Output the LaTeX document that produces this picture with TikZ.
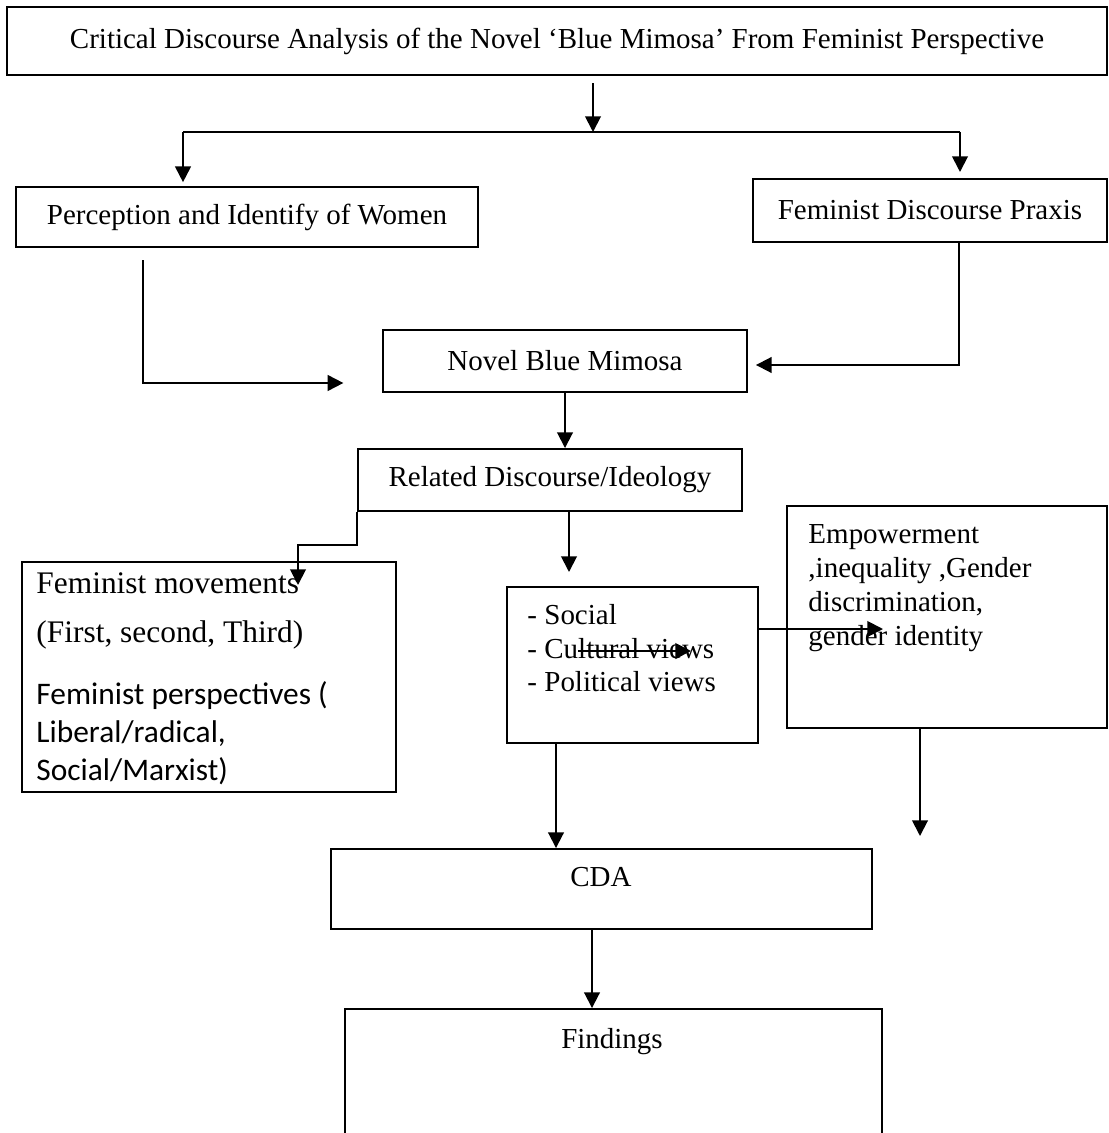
\documentclass[tikz,border=0pt]{standalone}
\usepackage{fontspec}
\setmainfont{Liberation Serif}
\newfontfamily\calibri{Carlito}
\usetikzlibrary{arrows.meta,fit}

\tikzset{
  box/.style={draw, line width=0.8pt, inner sep=0pt},
  txt/.style={inner sep=0pt, anchor=base west},
  link/.style={line width=0.8pt},
  arrow/.style={link, -{Triangle[length=6.5pt, width=6.5pt]}},
}

\begin{document}
\begin{tikzpicture}[x=0.414pt, y=-0.414pt, font=\fontsize{12}{14.4}\selectfont]
\useasboundingbox (0,0) rectangle (1109,1133);
\clip (0,0) rectangle (1109,1133);

% boxes
\node[box, fit={(7,7) (1107,75)}, label=center:{Critical Discourse Analysis of the Novel `Blue Mimosa' From Feminist Perspective}] (title) {};
\node[box, fit={(16,187) (478,247)}, label=center:{Perception and Identify of Women}] (perc) {};
\node[box, fit={(753,179) (1107,242)}, label=center:{Feminist Discourse Praxis}] (praxis) {};
\node[box, fit={(383,330) (747,392)}, label=center:{Novel Blue Mimosa}] (novel) {};
\node[box, fit={(358,449) (742,511)}, label=center:{Related Discourse/Ideology}] (related) {};
\node[box, fit={(22,562) (396,792)}] (movements) {};
\node[box, fit={(507,587) (758,743)}] (social) {};
\node[box, fit={(787,506) (1107,728)}] (empower) {};
\node[box, fit={(331,849) (872,929)}] (cda) {};
\node[box, fit={(345,1009) (882,1150)}] (findings) {};

% texts inside the boxes
\node[txt, font=\fontsize{13}{15}\selectfont] (mov1) at (36,593) {Feminist movements};
\node[txt, font=\fontsize{13}{15}\selectfont] (mov2) at (36,642) {(First, second, Third)};
\node[txt, font=\calibri\fontsize{13}{15}\selectfont] (persp1) at (36,704) {Feminist perspectives (};
\node[txt, font=\calibri\fontsize{13}{15}\selectfont] (persp2) at (36,742) {Liberal/radical,};
\node[txt, font=\calibri\fontsize{13}{15}\selectfont] (persp3) at (36,780) {Social/Marxist)};
\node[txt] (soc1) at (527,624) {- Social};
\node[txt] (soc2) at (527,658) {- Cultural views};
\node[txt] (soc3) at (527,691) {- Political views};
\node[txt] (emp1) at (808,543) {Empowerment};
\node[txt] (emp2) at (808,577) {,inequality ,Gender};
\node[txt] (emp3) at (808,611) {discrimination,};
\node[txt] (emp4) at (808,645) {gender identity};
\node[inner sep=0pt, anchor=base] (cdalabel) at (601,886) {CDA};
\node[inner sep=0pt, anchor=base] (findlabel) at (612,1048) {Findings};

% bends and free ends
\coordinate (split) at (593,132);
\coordinate (lbr) at (183,132);
\coordinate (rbr) at (960,132);
\coordinate (pl) at (143,383);
\coordinate (pr) at (959,365);
\coordinate (rs) at (569,572);
\coordinate (movtip) at (298,585);
\coordinate (setip) at (883,629);
\coordinate (cvtail) at (578,651);
\coordinate (cvtip) at (691,651);
\coordinate (sc) at (556,0);
\coordinate (etip) at (920,836);
\coordinate (cf) at (592,0);

% connectors
\draw[arrow] ([yshift=-3pt]title.south -| split) -- (split);
\draw[link] (lbr) -- (rbr);
\draw[arrow] (lbr) -- ([yshift=1.6pt]lbr |- perc.north);
\draw[arrow] (rbr) -- ([yshift=2.5pt]rbr |- praxis.north);
\draw[arrow] ([yshift=-5pt]perc.south -| pl) -- (pl) -- ([xshift=-16pt]novel.west |- pl);
\draw[arrow] (praxis.south -| pr) -- (pr) -- ([xshift=3.3pt]novel.east |- pr);
\draw[arrow] (novel.south) -- (novel.south |- related.north);
\draw[arrow] (related.south -| rs) -- (rs);
\draw[arrow] (related.south west) -- ++(0,33) -| (movtip);
\draw[arrow] (social.east |- setip) -- (setip);
\draw[arrow] (cvtail) -- (cvtip);
\draw[arrow] (social.south -| sc) -- (cda.north -| sc);
\draw[arrow] (empower.south -| etip) -- (etip);
\draw[arrow] (cda.south -| cf) -- (findings.north -| cf);
\end{tikzpicture}
\end{document}
